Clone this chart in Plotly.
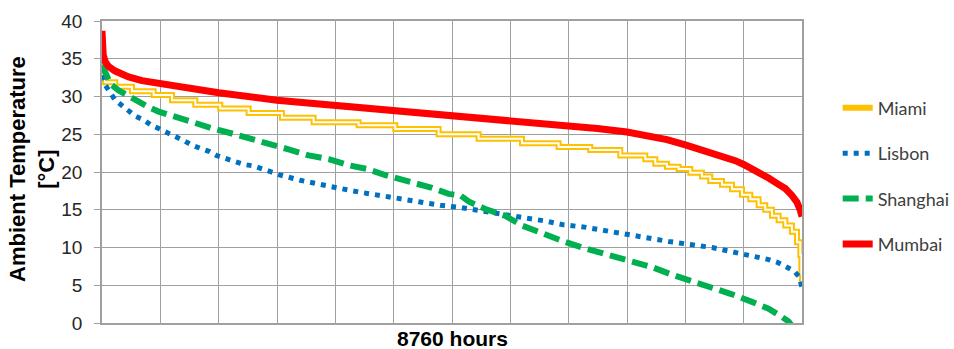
import plotly.graph_objects as go

# ---------------- data ----------------
# hours of the sorted year (duration-curve style), temperatures in °C
miami_hours = [0, 40, 166, 375, 646, 876, 1168, 1480, 1835, 2252, 2648, 3211, 3670,
               4212, 4713, 5256, 5714, 6110, 6486, 6799, 6924, 7070, 7216, 7362,
               7508, 7612, 7759, 7884, 8009, 8113, 8217, 8300, 8384, 8467, 8551,
               8634, 8697, 8739, 8752, 8760]
miami_temp = [32.8, 31.9, 31.3, 30.7, 30.2, 29.5, 28.9, 28.4, 27.8, 27.2, 26.6, 26.2, 25.7,
              25.0, 24.4, 23.8, 23.3, 22.9, 22.2, 21.7, 21.1, 20.7, 20.4, 19.9,
              19.4, 18.8, 18.3, 17.7, 17.0, 16.4, 15.6, 15.0, 14.2, 13.6, 12.9,
              12.1, 10.7, 9.0, 6.5, 4.8]

lisbon_hours = [0, 41, 104, 166, 250, 333, 417, 521, 617, 721, 826, 930, 1034, 1138,
                1243, 1347, 1431, 1543, 1660, 1773, 1898, 2010, 2127, 2231, 2482,
                2732, 2991, 3241, 3462, 3721, 3975, 4234, 4484, 4768, 5047, 5306,
                5556, 5777, 6040, 6307, 6570, 6820, 7091, 7362, 7634, 7854, 8104,
                8342, 8459, 8559, 8659, 8726, 8747, 8760]
lisbon_temp = [32.8, 31.5, 30.5, 29.5, 28.8, 28.1, 27.4, 26.9, 26.2, 25.7, 25.2, 24.6, 24.1, 23.5,
               23.1, 22.7, 22.2, 21.8, 21.3, 21.0, 20.8, 20.4, 19.9, 19.6, 18.9,
               18.3, 17.8, 17.3, 16.9, 16.5, 16.0, 15.6, 15.3, 14.8, 14.2, 13.9,
               13.5, 13.0, 12.7, 12.2, 11.8, 11.4, 10.8, 10.4, 10.0, 9.5, 9.0,
               8.4, 8.0, 7.5, 6.9, 6.1, 5.2, 4.7]

shanghai_hours = [0, 41, 104, 208, 333, 458, 584, 709, 917, 1126, 1376, 1626, 1877,
                  2169, 2335, 2586, 2836, 3086, 3316, 3545, 3754, 3921, 4129, 4338,
                  4484, 4588, 4797, 5047, 5256, 5506, 5756, 6006, 6215, 6465, 6695,
                  6883, 7133, 7383, 7634, 7884, 8134, 8342, 8509, 8592, 8650]
shanghai_temp = [34.2, 33.1, 31.7, 30.8, 30.0, 29.2, 28.6, 28.0, 27.3, 26.5, 25.8, 25.1, 24.4,
                 23.5, 23.0, 22.2, 21.7, 20.9, 20.4, 19.6, 18.9, 18.5, 17.9, 17.1,
                 16.9, 16.1, 15.1, 14.2, 12.9, 11.8, 10.9, 10.0, 9.4, 8.7, 8.1,
                 7.4, 6.4, 5.6, 4.7, 3.8, 2.8, 1.9, 0.8, 0.2, -0.6]

mumbai_hours = [0, 5, 15, 40, 80, 160, 333, 500, 730, 1100, 1460, 2190, 2920, 3650,
                4380, 5110, 5840, 6200, 6570, 6857, 7070, 7300, 7508, 7717, 7925, 8030,
                8134, 8238, 8342, 8446, 8551, 8634, 8697, 8740, 8760]
mumbai_temp = [38.7, 37.0, 35.5, 34.6, 34.0, 33.4, 32.6, 32.1, 31.7, 31.1, 30.5, 29.5, 28.85, 28.2,
               27.4, 26.7, 26.1, 25.75, 25.3, 24.85, 24.3, 23.6, 22.95, 22.25, 21.5, 21.0,
               20.45, 19.85, 19.2, 18.5, 17.8, 16.9, 16.0, 14.9, 14.1]

y_ticks = [0, 5, 10, 15, 20, 25, 30, 35, 40]

# ---------------- figure ----------------
fig = go.Figure()

fig.add_trace(go.Scatter(x=miami_hours, y=miami_temp, mode="lines", name="Miami",
                         line=dict(color="#FFC000", width=6, shape="hv"),
                         legendgroup="miami"))
fig.add_trace(go.Scatter(x=miami_hours, y=miami_temp, mode="lines", name="Miami",
                         line=dict(color="#FFFFFF", width=2, shape="hv"),
                         legendgroup="miami", showlegend=False, hoverinfo="skip"))
fig.add_trace(go.Scatter(x=lisbon_hours, y=lisbon_temp, mode="lines", name="Lisbon",
                         line=dict(color="#0070C0", width=5, dash="5px,6px"),
                         legendgroup="lisbon"))
fig.add_trace(go.Scatter(x=shanghai_hours, y=shanghai_temp, mode="lines", name="Shanghai",
                         line=dict(color="#00B050", width=6, dash="16px,7px"),
                         legendgroup="shanghai"))
fig.add_trace(go.Scatter(x=mumbai_hours, y=mumbai_temp, mode="lines", name="Mumbai",
                         line=dict(color="#FF0000", width=7),
                         legendgroup="mumbai"))

grid = "#A0A0A0"
fig.update_layout(
    width=954, height=349,
    margin=dict(l=102, r=152, t=21, b=26, autoexpand=False),
    paper_bgcolor="white", plot_bgcolor="white",
    font=dict(family="Liberation Sans, Arial, sans-serif", color="#262626"),
    showlegend=True,
    legend=dict(x=1.051, xanchor="left", y=0.773, yanchor="top",
                traceorder="grouped", tracegroupgap=19,
                font=dict(family="Lato, Liberation Sans, sans-serif", size=18, color="#404040"),
                bgcolor="rgba(0,0,0,0)"),
    xaxis=dict(range=[0, 8760], dtick=730, tick0=0, showticklabels=False,
               showgrid=True, gridcolor=grid, gridwidth=1.3,
               showline=True, linecolor=grid, linewidth=1.5, mirror=True,
               zeroline=False, ticks=""),
    yaxis=dict(range=[0, 40], tickvals=y_ticks, ticktext=[str(v) for v in y_ticks],
               showgrid=True, gridcolor=grid, gridwidth=1.3,
               showline=True, linecolor=grid, linewidth=1.5, mirror=True,
               zeroline=False, ticks="outside", ticklen=6, tickcolor=grid,
               tickfont=dict(size=19, color="#262626"), ticklabelstandoff=8),
    annotations=[
        dict(text="<b>Ambient Temperature<br>[°C]</b>", textangle=-90,
             xref="paper", yref="paper", x=-0.1, y=0.51,
             xanchor="center", yanchor="middle", showarrow=False,
             font=dict(size=22, color="#000000")),
        dict(text="<b>8760 hours</b>", xref="paper", yref="paper",
             x=0.5, y=-0.05, xanchor="center", yanchor="middle", showarrow=False,
             font=dict(size=21, color="#000000")),
    ],
)

fig.write_html("out.html", config={"displayModeBar": False},
               post_script="document.body.style.margin='0px';")
